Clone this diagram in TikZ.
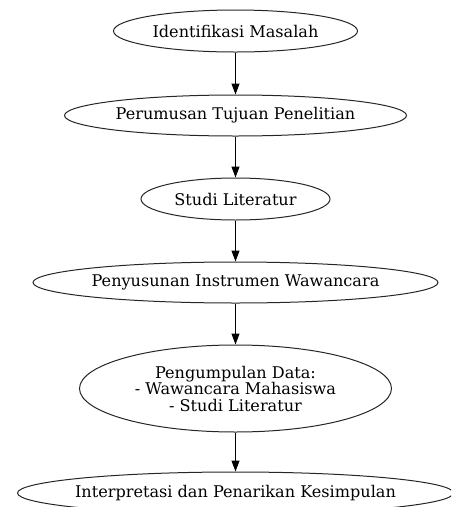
\documentclass[tikz,border=0pt]{standalone}
\usepackage{fontspec}
\setmainfont{DejaVu Serif}
\usetikzlibrary{shapes.geometric,arrows.meta}
\newcommand{\ztxt}[1]{\makebox[0pt][c]{#1}}
\begin{document}
\begin{tikzpicture}[x=1pt,y=-1pt,
  stepnode/.style={draw=black!85,line width=1pt,ellipse,inner sep=0pt,align=center,
    font=\fontsize{16.1}{16.5}\selectfont,text=black},
  link/.style={draw=black,line width=1pt,-{Triangle[length=11pt,width=8pt]}}]
\useasboundingbox (0,0) rectangle (451,507);
\clip (0,0) rectangle (451,507);
\node[stepnode,minimum width=244pt,minimum height=42pt] (a) at (235.5,31) {\ztxt{Identifikasi Masalah}};
\node[stepnode,minimum width=342pt,minimum height=41pt] (b) at (235.5,115.5) {\ztxt{Perumusan Tujuan Penelitian}};
\node[stepnode,minimum width=189pt,minimum height=42pt] (c) at (235.5,199) {\ztxt{Studi Literatur}};
\node[stepnode,minimum width=405pt,minimum height=41pt] (d) at (235.5,282.5) {\ztxt{Penyusunan Instrumen Wawancara}};
\node[stepnode,minimum width=312pt,minimum height=87pt] (e) at (235.5,388.5) {\ztxt{Pengumpulan Data:}\\\ztxt{- Wawancara Mahasiswa}\\\ztxt{- Studi Literatur}};
\node[stepnode,minimum width=436pt,minimum height=42pt] (f) at (235.5,493) {\ztxt{Interpretasi dan Penarikan Kesimpulan}};
\draw[link] (a.south) -- (b.north);
\draw[link] (b.south) -- (c.north);
\draw[link] (c.south) -- (d.north);
\draw[link] (d.south) -- (e.north);
\draw[link] (e.south) -- (f.north);
\end{tikzpicture}
\end{document}
